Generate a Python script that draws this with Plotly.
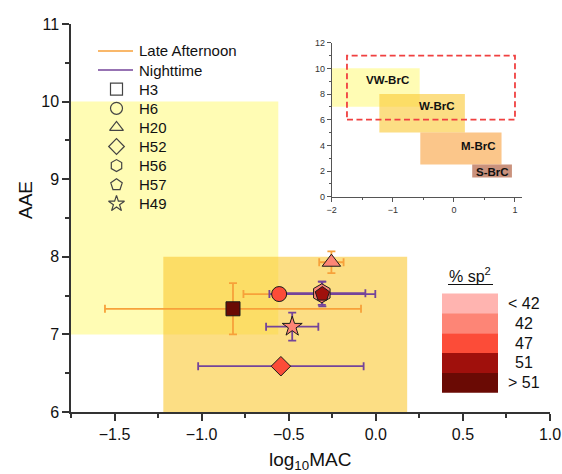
import plotly.graph_objects as go

# ---- sample data -------------------------------------------------------
samples = ["H3", "H6", "H20", "H52", "H56", "H57", "H49"]
periods = ["Late Afternoon", "Late Afternoon", "Late Afternoon",
           "Nighttime", "Nighttime", "Nighttime", "Nighttime"]
log_mac = [-0.82, -0.555, -0.255, -0.545, -0.31, -0.307, -0.48]
log_mac_err = [0.735, 0.205, 0.07, 0.475, 0.25, 0.304, 0.15]
aae = [7.33, 7.52, 7.93, 6.59, 7.53, 7.52, 7.10]
aae_err = [0.33, 0.04, 0.14, 0.04, 0.15, 0.16, 0.18]
sp2_class = [">51", "47", "42", "47", "42", "51", "42"]
symbols = ["square", "circle", "triangle-up", "diamond", "hexagon", "pentagon", "star"]
marker_sizes = [14, 15, 16, 15, 19, 15, 15]

# sp2 colour classes
sp2_keys = ["<42", "42", "47", "51", ">51"]
sp2_labels = ["< 42", "42", "47", "51", "> 51"]
sp2_colors = ["#ffb4b0", "#fd8576", "#fc4c38", "#a0100c", "#6a0a04"]

period_names = ["Late Afternoon", "Nighttime"]
period_colors = ["#f7a13a", "#74449a"]

# BrC optical classes (log10 MAC range x AAE range)
brc_names = ["VW-BrC", "W-BrC", "M-BrC", "S-BrC"]
brc_x0 = [-2.0, -1.22, -0.55, 0.30]
brc_x1 = [-0.56, 0.18, 0.78, 0.95]
brc_y0 = [7.0, 5.0, 2.5, 1.5]
brc_y1 = [10.0, 8.0, 5.0, 2.5]
brc_fill = ["rgba(255,250,130,0.6)", "rgba(250,200,50,0.6)",
            "rgba(248,160,60,0.6)", "rgba(180,100,70,0.7)"]
brc_label_x = [-1.08, -0.27, 0.41, 0.63]
brc_label_y = [9.1, 7.07, 3.95, 1.95]

x_range = [-1.75, 1.0]
y_range = [6, 11]

# ---- page geometry -----------------------------------------------------
W, H = 562, 474
ML, MR, MT, MB = 71, 12, 24, 62
PW, PH = W - ML - MR, H - MT - MB
FONT = "Arial, Liberation Sans, sans-serif"


def px_x(p):
    return (p - ML) / PW


def px_y(p):
    return (H - MB - p) / PH


def label(x, y, text, size, xanchor="center", **kw):
    return dict(x=x, y=y, xref="paper", yref="paper", text=text, showarrow=False,
                xanchor=xanchor, yanchor="middle",
                font=dict(family=FONT, size=size, color="#111"), **kw)


fig = go.Figure()

# error bars: afternoon first, then nighttime, markers on top of both
for pname, pcol in zip(period_names, period_colors):
    idx = [i for i, p in enumerate(periods) if p == pname]
    fig.add_trace(go.Scatter(
        x=[log_mac[i] for i in idx], y=[aae[i] for i in idx],
        mode="markers", marker=dict(size=1, color="rgba(0,0,0,0)"),
        error_x=dict(type="data", array=[log_mac_err[i] for i in idx],
                     color=pcol, thickness=1.8, width=4),
        error_y=dict(type="data", array=[aae_err[i] for i in idx],
                     color=pcol, thickness=1.8, width=4),
        showlegend=False, hoverinfo="skip"))

for i, s in enumerate(samples):
    col = sp2_colors[sp2_keys.index(sp2_class[i])]
    fig.add_trace(go.Scatter(
        x=[log_mac[i]], y=[aae[i]], mode="markers", name=s,
        marker=dict(symbol=symbols[i], size=marker_sizes[i], color=col,
                    line=dict(color="#1a1a1a", width=1)),
        showlegend=False))

shapes = []
annotations = []

# BrC regions in the main panel and in the inset
for i in range(len(brc_names)):
    for xr, yr in (("x", "y"), ("x2", "y2")):
        shapes.append(dict(type="rect", xref=xr, yref=yr,
                           x0=brc_x0[i], x1=brc_x1[i], y0=brc_y0[i], y1=brc_y1[i],
                           fillcolor=brc_fill[i], line=dict(width=0), layer="below"))
    annotations.append(dict(x=brc_label_x[i], y=brc_label_y[i], xref="x2", yref="y2",
                            text="<b>%s</b>" % brc_names[i], showarrow=False,
                            xanchor="center", yanchor="middle",
                            font=dict(family=FONT, size=11.5, color="#111")))

# main panel extent outlined in the inset
shapes.append(dict(type="rect", xref="x2", yref="y2",
                   x0=x_range[0], x1=x_range[1], y0=y_range[0], y1=y_range[1],
                   line=dict(color="#f04040", width=1.8, dash="6px,3.5px"),
                   fillcolor="rgba(0,0,0,0)"))

# ---- legend: periods and sample symbols ---------------------------------
leg_y0, leg_dy = 51, 19.1
leg_x_line = (98, 133)
leg_x_mark, leg_x_text = 116.5, 137
for k, (pname, pcol) in enumerate(zip(period_names, period_colors)):
    yy = px_y(leg_y0 + k * leg_dy)
    shapes.append(dict(type="line", xref="paper", yref="paper",
                       x0=px_x(leg_x_line[0]), x1=px_x(leg_x_line[1]), y0=yy, y1=yy,
                       line=dict(color=pcol, width=1.5)))
    annotations.append(label(px_x(leg_x_text), yy, pname, 15, xanchor="left"))

leg_rows_y = [px_y(leg_y0 + (k + 2) * leg_dy) for k in range(len(samples))]
fig.add_trace(go.Scatter(
    x=[px_x(leg_x_mark)] * len(samples), y=leg_rows_y, xaxis="x3", yaxis="y3",
    mode="markers",
    marker=dict(symbol=[s + "-open" for s in symbols], size=12, color="#444",
                line=dict(width=1.2)),
    showlegend=False, hoverinfo="skip"))
for k, s in enumerate(samples):
    annotations.append(label(px_x(leg_x_text), leg_rows_y[k], s, 15, xanchor="left"))

# ---- sp2 colour key -----------------------------------------------------
key_x0, key_x1 = 442, 498
key_top, key_h = 293.5, 19.85
for k, (lab, col) in enumerate(zip(sp2_labels, sp2_colors)):
    y_top = key_top + k * key_h
    shapes.append(dict(type="rect", xref="paper", yref="paper",
                       x0=px_x(key_x0), x1=px_x(key_x1),
                       y0=px_y(y_top + key_h), y1=px_y(y_top),
                       fillcolor=col, line=dict(width=0), layer="above"))
    annotations.append(label(px_x(524), px_y(y_top + key_h / 2), lab, 16))
annotations.append(label(px_x(470), px_y(275), "% sp<sup>2</sup>", 16))
shapes.append(dict(type="line", xref="paper", yref="paper",
                   x0=px_x(448), x1=px_x(493), y0=px_y(284.5), y1=px_y(284.5),
                   line=dict(color="#111", width=1.2)))

# axis titles
annotations.append(label(px_x(25), px_y(200), "AAE", 19, textangle=-90))
annotations.append(label(px_x(310), px_y(461), "log<sub>10</sub>MAC", 19))

main_axis = dict(showline=True, linecolor="#333", linewidth=1.5, mirror=False,
                 ticks="outside", ticklen=7, tickwidth=1.5, tickcolor="#333",
                 showgrid=False, zeroline=False, automargin=False,
                 tickfont=dict(family=FONT, size=16, color="#111"))
inset_axis = dict(showline=True, linecolor="#555", linewidth=1, mirror=False,
                  ticks="outside", ticklen=4, tickwidth=1, tickcolor="#555",
                  showgrid=False, zeroline=False, automargin=False,
                  tickfont=dict(family=FONT, size=9, color="#333"))

fig.update_layout(
    width=W, height=H,
    margin=dict(l=ML, r=MR, t=MT, b=MB, pad=0, autoexpand=False),
    paper_bgcolor="white", plot_bgcolor="white",
    showlegend=False,
    xaxis=dict(main_axis, range=x_range, dtick=0.5, tickformat=".1f",
               minor=dict(dtick=0.25, ticklen=4, tickwidth=1.5, tickcolor="#333", ticks="outside")),
    yaxis=dict(main_axis, range=y_range, dtick=1,
               minor=dict(dtick=0.5, ticklen=4, tickwidth=1.5, tickcolor="#333", ticks="outside")),
    xaxis2=dict(inset_axis, domain=[px_x(331.7), px_x(521.7)], anchor="y2",
                range=[-2, 1.11], dtick=1,
                minor=dict(dtick=0.5, ticklen=2, tickcolor="#555", ticks="outside")),
    yaxis2=dict(inset_axis, domain=[px_y(196.7), px_y(42.7)], anchor="x2",
                range=[0, 12], dtick=2,
                minor=dict(dtick=1, ticklen=2, tickcolor="#555", ticks="outside")),
    xaxis3=dict(overlaying="x", range=[0, 1], visible=False),
    yaxis3=dict(overlaying="y", range=[0, 1], visible=False),
    shapes=shapes,
    annotations=annotations,
)

fig.write_html("out.html")
